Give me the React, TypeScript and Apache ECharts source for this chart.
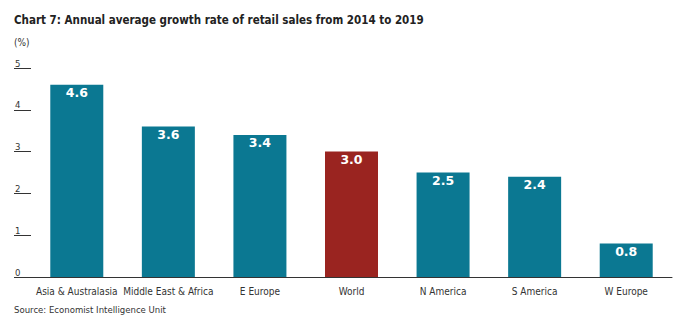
import React, { useEffect, useRef } from "react";
import * as echarts from "echarts";

const categories = ["Asia & Australasia", "Middle East & Africa", "E Europe", "World", "N America", "S America", "W Europe"];
const values = [4.6, 3.6, 3.4, 3.0, 2.5, 2.4, 0.8];
const highlight = ["World"];
const yTicks = [0, 1, 2, 3, 4, 5];

const TEAL = "#0b7892";
const RED = "#9a2420";
const FONT = "'DejaVu Sans Condensed', sans-serif";

export default function App() {
  const ref = useRef<HTMLDivElement>(null);
  useEffect(() => {
    if (!ref.current) return;
    const chart = echarts.init(ref.current, null, { renderer: "svg" });
    chart.setOption({
      animation: false,
      backgroundColor: "#ffffff",
      title: [
        {
          text: "Chart 7: Annual average growth rate of retail sales from 2014 to 2019",
          left: 1,
          top: 1,
          textStyle: { fontFamily: FONT, fontSize: 11.5, fontWeight: "bold", color: "#222" },
        },
        {
          text: "(%)",
          left: 1,
          top: 24,
          textStyle: { fontFamily: FONT, fontSize: 10, fontWeight: "normal", color: "#333" },
        },
        {
          text: "Source: Economist Intelligence Unit",
          left: 1,
          top: 291,
          textStyle: { fontFamily: FONT, fontSize: 9.5, fontWeight: "normal", color: "#333" },
        },
      ],
      grid: { left: 23, right: 20, top: 60, bottom: 44, containLabel: false },
      xAxis: {
        type: "category",
        data: categories,
        axisLine: { show: true, lineStyle: { color: "#333", width: 1 } },
        axisTick: { show: false },
        axisLabel: { color: "#333", fontFamily: FONT, fontSize: 10, margin: 9, interval: 0 },
      },
      yAxis: {
        type: "value",
        min: yTicks[0],
        max: yTicks[yTicks.length - 1],
        interval: 1,
        splitLine: { show: false },
        axisLine: { show: false },
        axisTick: { show: true, length: 17, lineStyle: { color: "#333", width: 1 } },
        axisLabel: {
          color: "#333",
          fontFamily: FONT,
          fontSize: 9.5,
          align: "left",
          verticalAlign: "bottom",
          margin: 16,
          padding: [0, 0, 0, 0],
        },
      },
      series: [
        {
          type: "bar",
          data: values.map((v, i) => ({
            value: v,
            itemStyle: { color: highlight.includes(categories[i]) ? RED : TEAL },
          })),
          barWidth: 53,
          label: {
            show: true,
            position: "insideTop",
            distance: 1,
            color: "#fff",
            fontFamily: "'DejaVu Sans', sans-serif",
            fontWeight: "bold",
            fontSize: 12.5,
            formatter: (p: any) => Number(p.value).toFixed(1),
          },
        },
      ],
    });
    return () => chart.dispose();
  }, []);
  return <div ref={ref} style={{ width: 684, height: 313 }} />;
}
